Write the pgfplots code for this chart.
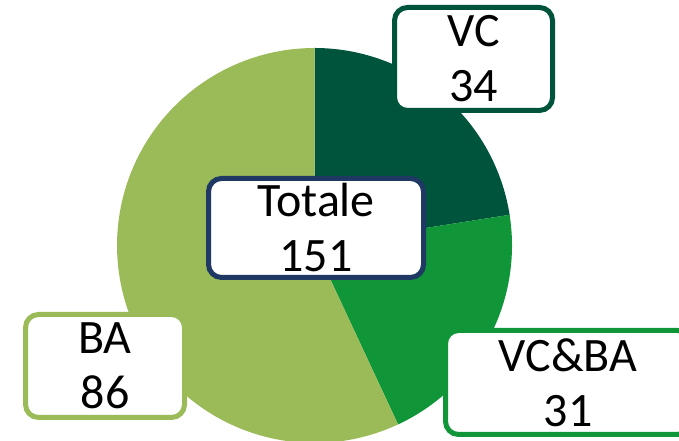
\documentclass[border=0pt]{standalone}
\usepackage{pgfplots}
\pgfplotsset{compat=1.18}
\usepackage{fontspec}
\setmainfont{Carlito}
\definecolor{cVC}{HTML}{00543C}
\definecolor{cVCBA}{HTML}{109539}
\definecolor{cBA}{HTML}{9BBB59}
\definecolor{cTot}{HTML}{1F3864}
\def\vVC{34}\def\vVCBA{31}\def\vBA{86}
\tikzset{box/.style={rounded corners=13bp, line width=5bp, fill=white, inner sep=0pt, outer sep=0pt,
    align=center, font=\fontsize{48bp}{55bp}\selectfont}}
\begin{document}
\begin{tikzpicture}[x=1bp,y=1bp]
\useasboundingbox (0,0) rectangle (679,441);
\clip (0,0) rectangle (679,441);
\pgfmathsetmacro\tot{\vVC+\vVCBA+\vBA}
\pgfmathsetmacro\aA{90}
\pgfmathsetmacro\aB{90-(360/\tot)*\vVC}
\pgfmathsetmacro\aC{\aB-(360/\tot)*\vVCBA}
\pgfmathsetmacro\aD{\aC-(360/\tot)*\vBA}
\begin{axis}[at={(0,0)},anchor=south west, scale only axis, width=679bp, height=441bp,
  xmin=0,xmax=679,ymin=0,ymax=441, hide axis, clip=false, samples=90]
\addplot[draw=none, fill=cVC, domain=\aB:\aA] ({314.5+197.5*cos(x)},{195.5+197.5*sin(x)}) -- (axis cs:314.5,195.5) -- cycle;
\addplot[draw=none, fill=cVCBA, domain=\aC:\aB] ({314.5+197.5*cos(x)},{195.5+197.5*sin(x)}) -- (axis cs:314.5,195.5) -- cycle;
\addplot[draw=none, fill=cBA, domain=\aD:\aC] ({314.5+197.5*cos(x)},{195.5+197.5*sin(x)}) -- (axis cs:314.5,195.5) -- cycle;
\node[box, draw=cVC, minimum width=158bp, minimum height=103bp] at (axis cs:473.5,382) {VC\\\vVC};
\node[box, draw=cTot, minimum width=215bp, minimum height=99bp] at (axis cs:316,213) {Totale\\151};
\node[box, draw=cVCBA, minimum width=245bp, minimum height=104bp] at (axis cs:568,58.5) {VC\&BA\\\vVCBA};
\node[box, draw=cBA, minimum width=159bp, minimum height=103bp] at (axis cs:105,75) {BA\\\vBA};
\end{axis}
\end{tikzpicture}
\end{document}
